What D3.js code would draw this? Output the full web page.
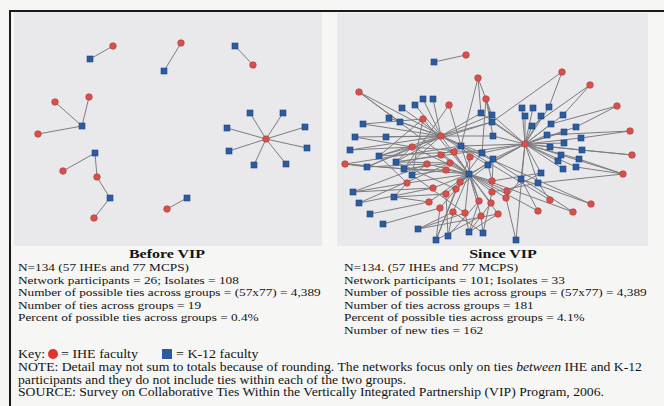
<!DOCTYPE html>
<html>
<head>
<meta charset="utf-8">
<script src="https://cdn.jsdelivr.net/npm/d3@7"></script>
<style>
  html, body { margin: 0; padding: 0; background: #f6f6f4; }
  svg text { font-family: "Liberation Serif", "Times New Roman", serif; fill: #141414; }
</style>
</head>
<body>
<svg id="chart" width="664" height="406"></svg>
<script>
// ---- Before VIP network (layout units, origin at panel top-left)
const beforeIHE = [[99,34],[167,31],[239,53],[41,90],[75,85],[24,122],[49,159],[83,165],[80,206],[153,197],[252,127]]
const beforeK12 = [[76,47],[150,59],[221,34],[68,114],[81,141],[96,186],[173,186],[236,101],[269,101],[213,116],[291,115],[215,139],[293,136],[240,153],[272,152]]
const beforeTies = [[0,0],[1,1],[2,2],[3,3],[4,3],[5,3],[6,4],[7,4],[7,5],[8,5],[9,6],
  [10,7],[10,8],[10,9],[10,10],[10,11],[10,12],[10,13],[10,14]]

// ---- Since VIP network
const sinceIHE = [[129,42],[22,79],[141,65],[149,86],[112,92],[86,106],[225,59],[253,72],[280,93],[293,118],
  [295,142],[286,161],[188,131],[104,123],[75,134],[8,151],[104,142],[117,139],[133,144],[113,150],
  [90,151],[109,157],[70,170],[123,169],[119,176],[96,175],[109,181],[92,189],[103,195],[116,199],
  [128,200],[142,188],[154,190],[155,179],[155,168],[170,178],[169,185],[161,201],[144,203],[201,198],
  [213,187],[236,199],[254,191]]
const sinceK12 = [[97,49],[86,86],[96,86],[65,95],[78,92],[52,105],[63,109],[26,111],[49,124],[18,124],
  [13,137],[42,143],[59,149],[30,154],[67,156],[75,162],[16,179],[57,184],[22,190],[33,201],
  [46,211],[81,216],[99,227],[111,223],[132,219],[146,220],[179,227],[124,133],[132,161],[145,140],
  [151,152],[156,146],[156,123],[155,109],[155,102],[144,100],[185,95],[196,95],[212,94],[188,103],
  [204,103],[226,102],[195,113],[214,111],[239,114],[210,122],[227,119],[244,125],[213,134],[227,130],
  [245,137],[224,142],[221,148],[242,146],[226,156],[239,154],[184,166],[204,160],[201,170]]
const sinceTies = [
  [0,0],
  [12,27],[12,28],[12,29],[12,30],[12,31],[12,32],[12,33],[12,34],[12,35],[12,36],[12,37],[12,38],[12,39],
  [12,40],[12,41],[12,42],[12,43],[12,44],[12,45],[12,46],[12,47],[12,48],[12,49],[12,50],[12,51],[12,52],
  [12,53],[12,54],[12,55],[12,56],[12,57],[12,58],[12,12],[12,26],
  [6,38],[6,33],[7,41],[7,42],[8,44],[8,43],[9,47],[9,45],[10,50],[10,48],[11,53],[11,55],[11,51],[11,58],
  [13,1],[13,2],[13,3],[13,4],[13,5],[13,6],[13,7],[13,8],[13,9],[13,10],[13,11],[13,13],[13,34],[13,35],
  [13,33],[13,32],[13,29],[13,27],[13,30],[13,28],[13,14],[13,12],
  [14,28],[15,28],[16,28],[17,28],[18,28],[19,28],[20,28],[21,28],[22,28],[23,28],[24,28],[25,28],[26,28],
  [27,28],[28,28],[29,28],[30,28],[31,28],[32,28],[33,28],[34,28],[35,28],[36,28],[37,28],[38,28],[1,28],[5,28],
  [1,6],[1,27],[2,35],[2,34],[2,27],[3,33],[3,32],[3,29],[4,27],[4,14],[5,7],[5,11],[5,15],
  [14,9],[14,10],[14,11],[14,13],[14,12],[14,33],[14,29],
  [15,13],[15,14],[15,27],
  [22,16],[22,17],[25,18],[27,19],[28,20],[29,21],[30,21],[20,16],[19,18],
  [28,22],[24,22],[31,23],[29,23],[37,24],[30,24],[38,25],[33,25],[18,22],
  [39,28],[39,56],[40,27],[40,58],[41,28],[41,29],[42,27],[42,56],
  [16,27],[17,27],[18,27],[19,14],[20,15],[21,15],[23,31],[24,30],[33,31],[34,30],[35,57],[36,56],
  [32,24],[26,17],[27,17],[31,27],[30,15],
  [16,12],[17,11],[19,12],[20,13],[21,14],[23,29],[25,16],[26,23],[29,25],[31,24],[33,58],[34,57],
  [36,26],[37,21],[38,22],[22,11],[24,12]
]

const beforeStats = [
  "N=134 (57 IHEs and 77 MCPS)",
  "Network participants = 26; Isolates = 108",
  "Number of possible ties across groups = (57x77) = 4,389",
  "Number of ties across groups = 19",
  "Percent of possible ties across groups = 0.4%"
]
const sinceStats = [
  "N=134.  (57 IHEs and 77 MCPS)",
  "Network participants = 101; Isolates = 33",
  "Number of possible ties across groups = (57x77) = 4,389",
  "Number of ties across groups = 181",
  "Percent of possible ties across groups = 4.1%",
  "Number of new ties = 162"
]
const noteLines = [
  "participants and they do not include ties within each of the two groups.",
  "SOURCE:  Survey on Collaborative Ties Within the Vertically Integrated Partnership (VIP) Program, 2006."
]

const svg = d3.select('#chart')
svg.append('rect').attr('x', 0).attr('y', 0).attr('width', 664).attr('height', 406).attr('fill', '#f6f6f4')

// scanned text is set solid and a little squashed vertically
const squash = 0.84
function putText(sel, x, y, size) {
  return sel.append('text')
    .attr('transform', `translate(${x},${y}) scale(1,${squash})`)
    .style('font-size', size + 'px')
}

const panels = [
  { title: 'Before VIP', ihe: beforeIHE, k12: beforeK12, ties: beforeTies, stats: beforeStats,
    x0: 14, y0: 12, w: 308, h: 234, textX: 18, titleX: 167 },
  { title: 'Since VIP', ihe: sinceIHE, k12: sinceK12, ties: sinceTies, stats: sinceStats,
    x0: 337, y0: 13, w: 311, h: 233, textX: 344, titleX: 503 }
]

panels.forEach((p) => {
  const x = d3.scaleLinear().domain([0, p.w]).range([p.x0, p.x0 + p.w])
  const y = d3.scaleLinear().domain([0, p.h]).range([p.y0, p.y0 + p.h])
  const g = svg.append('g')

  g.append('rect')
    .attr('x', p.x0).attr('y', p.y0).attr('width', p.w).attr('height', p.h)
    .attr('fill', '#e9e9eb')

  g.selectAll('line.tie')
    .data(p.ties)
    .enter()
    .append('line')
    .attr('class', 'tie')
    .attr('x1', d => x(p.ihe[d[0]][0]))
    .attr('y1', d => y(p.ihe[d[0]][1]))
    .attr('x2', d => x(p.k12[d[1]][0]))
    .attr('y2', d => y(p.k12[d[1]][1]))
    .style('stroke', '#7d7d80')
    .style('stroke-width', 1)

  g.selectAll('rect.k12')
    .data(p.k12)
    .enter()
    .append('rect')
    .attr('class', 'k12')
    .attr('x', d => x(d[0]) - 3)
    .attr('y', d => y(d[1]) - 3)
    .attr('width', 6)
    .attr('height', 6)
    .style('fill', '#2c5c9f')
    .style('stroke', '#1f4680')
    .style('stroke-width', 0.6)

  g.selectAll('circle.ihe')
    .data(p.ihe)
    .enter()
    .append('circle')
    .attr('class', 'ihe')
    .attr('cx', d => x(d[0]))
    .attr('cy', d => y(d[1]))
    .attr('r', 3.3)
    .style('fill', '#d9504a')
    .style('stroke', '#a83b37')
    .style('stroke-width', 0.6)

  putText(g, p.titleX, 258, 16)
    .attr('text-anchor', 'middle')
    .style('font-weight', 'bold')
    .text(p.title)

  p.stats.forEach((s, i) => {
    putText(g, p.textX, 271 + i * 12.6, 13.3).text(s)
  })
})

// key
const key = svg.append('g')
putText(key, 18, 358, 14).text('Key:')
key.append('circle').attr('cx', 53).attr('cy', 354).attr('r', 5).style('fill', '#e0322e')
putText(key, 61, 358, 14).text('= IHE faculty')
key.append('rect').attr('x', 162).attr('y', 349).attr('width', 10).attr('height', 10).style('fill', '#2c5c9f')
putText(key, 176, 358, 14).text('= K-12 faculty')

// note + source
const note = putText(svg, 18, 371, 13.7)
note.append('tspan').text('NOTE: Detail may not sum to totals because of rounding.  The networks focus only on ties ')
note.append('tspan').style('font-style', 'italic').text('between')
note.append('tspan').text(' IHE and K-12')
noteLines.forEach((s, i) => {
  putText(svg, 18, 383.5 + i * 12.5, 13.7).text(s)
})

// border of the figure
svg.append('line').attr('x1', 10).attr('y1', 11).attr('x2', 664).attr('y2', 11)
  .style('stroke', '#1a1a1a').style('stroke-width', 2)
svg.append('line').attr('x1', 10).attr('y1', 10).attr('x2', 10).attr('y2', 406)
  .style('stroke', '#1a1a1a').style('stroke-width', 2)
</script>
</body>
</html>
